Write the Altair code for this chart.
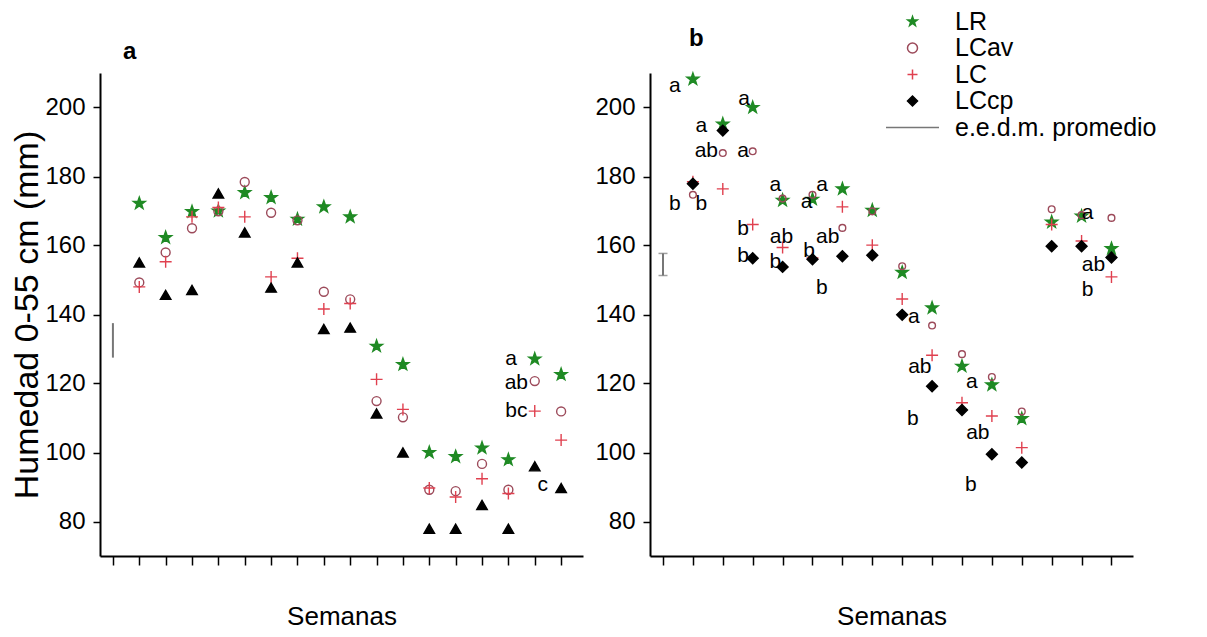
import altair as alt
import pandas as pd

F = "Liberation Sans, Arial, sans-serif"

series = ["LR", "LCav", "LC", "LCcp"]
legend_domain = series + ["e.e.d.m. promedio"]

# ---- panel a ----
weeks_a = list(range(2, 19))
LR_a = [172.2, 162.3, 169.8, 170.0, 175.3, 173.9, 167.6, 171.2, 168.3, 130.8, 125.5, 100.0, 98.8, 101.3, 97.9, 127.1, 122.6]
LCav_a = [149.3, 158.0, 165.0, 169.9, 178.4, 169.5, 167.3, 146.6, 144.4, 114.9, 110.2, 89.2, 88.8, 96.7, 89.2, 120.7, 111.9]
LC_a = [148.0, 155.3, 168.3, 171.0, 168.3, 150.9, 156.3, 141.6, 143.2, 121.2, 112.5, 89.7, 87.1, 92.4, 88.1, 112.0, 103.6]
LCcp_a = [155.1, 145.7, 147.1, 175.1, 163.8, 147.8, 155.1, 135.8, 136.2, 111.3, 100.0, 77.9, 77.9, 84.8, 77.9, 96.0, 89.7]

# ---- panel b ----
weeks_b = list(range(2, 17))
LR_b = [208.2, 195.2, 200.0, 173.1, 173.4, 176.4, 170.2, 152.2, 141.9, 125.0, 119.6, 109.8, 166.8, 168.5, 159.1]
LCav_b = [174.7, 186.8, 187.3, 173.6, 174.7, 165.1, 169.9, 154.0, 136.8, 128.5, 121.9, 111.9, 170.5, 168.8, 168.0]
LC_b = [178.5, 176.4, 166.1, 159.4, 156.4, 171.2, 160.1, 144.5, 128.2, 114.4, 110.6, 101.4, 166.1, 161.3, 150.9]
LCcp_b = [177.9, 193.3, 156.3, 153.8, 156.0, 156.9, 157.2, 139.9, 119.2, 112.3, 99.5, 97.1, 159.8, 159.8, 156.5]

ticks_a = list(range(1, 19))
ticks_b = list(range(1, 17))
y_ticks = [80, 100, 120, 140, 160, 180, 200]

# mean standard error bars (e.e.d.m. promedio)
err_a_week, err_a_lo, err_a_hi = [1], [127.5], [137.5]
err_b_week, err_b_lo, err_b_hi = [1], [151.3], [157.7]

# significance letters
let_a_text = ["a", "ab", "bc", "c"]
let_a_x = [16.1, 16.3, 16.3, 17.3]
let_a_y = [127.0, 120.2, 112.0, 90.6]

let_b_text = ["a", "a", "ab", "b", "b", "a", "a", "b", "b", "a", "ab", "b", "a", "a", "b", "ab", "b",
              "a", "ab", "b", "a", "ab", "b", "a", "ab", "b"]
let_b_x = [1.40, 2.28, 2.45, 1.40, 2.28, 3.71, 3.68, 3.68, 3.68, 4.76, 4.96, 4.76, 6.32, 5.80, 5.89, 6.51, 6.31,
           9.39, 9.59, 9.36, 11.33, 11.53, 11.30, 15.2, 15.4, 15.2]
let_b_y = [206.3, 194.7, 187.3, 172.1, 172.1, 202.4, 187.3, 164.9, 157.0, 177.6, 162.5, 155.1, 177.6, 172.6, 158.4, 162.5, 147.6,
           139.4, 124.8, 109.8, 120.5, 105.6, 90.5, 169.5, 154.3, 147.1]

STAR = ("M0,-1L0.235,-0.324L0.951,-0.309L0.380,0.124L0.588,0.809L0,0.4"
        "L-0.588,0.809L-0.380,0.124L-0.951,-0.309L-0.235,-0.324Z")
PLUS = "M-1,0L1,0M0,-1L0,1"
LINE = "M-5.3,0L5.3,0"

GREEN = "#1f8a24"
BROWN = "#9c4a5a"
RED = "#e0404f"
GREY = "#777777"
FILLS = [GREEN, "transparent", "transparent", "black", "transparent"]
STROKES = [GREEN, BROWN, RED, "black", GREY]


def panel(weeks, cols, ticks, xdom, shapes, sizes, err, letters, ytitle, title, legend, caps):
    xs = alt.Scale(domain=xdom, nice=False, zero=False)
    ys = alt.Scale(domain=[70, 210], nice=False, zero=False)
    xax = alt.Axis(values=ticks, labels=False, tickSize=9, tickWidth=1.5, domainWidth=2,
                   title="Semanas", titleFontSize=26, titlePadding=38, titleFont=F,
                   titleFontWeight="normal")
    yax = alt.Axis(values=y_ticks, tickSize=7, tickWidth=1.5, domainWidth=2, labelFontSize=24,
                   labelPadding=8, labelFont=F, title=ytitle, titleFontSize=34, titlePadding=0,
                   titleFont=F, titleFontWeight="normal")
    layers = []
    for name, vals, sz in zip(series, cols, sizes):
        d = pd.DataFrame({"week": weeks, "value": vals, "series": [name] * len(weeks)})
        if legend is None:
            shp = alt.Shape("series:N", scale=alt.Scale(domain=legend_domain, range=shapes), legend=None)
            fil = alt.Fill("series:N", scale=alt.Scale(domain=legend_domain, range=FILLS), legend=None)
            stk = alt.Stroke("series:N", scale=alt.Scale(domain=legend_domain, range=STROKES), legend=None)
        else:
            shp = alt.Shape("series:N", scale=alt.Scale(domain=legend_domain, range=shapes), legend=legend)
            fil = alt.Fill("series:N", scale=alt.Scale(domain=legend_domain, range=FILLS), legend=legend)
            stk = alt.Stroke("series:N", scale=alt.Scale(domain=legend_domain, range=STROKES), legend=legend)
        layers.append(alt.Chart(d).mark_point(opacity=1, strokeWidth=1.4, size=sz).encode(
            x=alt.X("week:Q", scale=xs, axis=xax),
            y=alt.Y("value:Q", scale=ys, axis=yax),
            shape=shp, fill=fil, stroke=stk,
        ))
    edf = pd.DataFrame({"week": err[0], "lo": err[1], "hi": err[2]})
    layers.append(alt.Chart(edf).mark_rule(color=GREY, strokeWidth=2).encode(
        x=alt.X("week:Q", scale=xs, axis=xax),
        y=alt.Y("lo:Q", scale=ys, axis=yax),
        y2="hi:Q",
    ))
    if caps:
        cdf = pd.DataFrame({"week": err[0] * 2, "v": err[1] + err[2]})
        layers.append(alt.Chart(cdf).mark_tick(color=GREY, orient="horizontal", size=9,
                                               thickness=1.5).encode(
            x=alt.X("week:Q", scale=xs, axis=xax),
            y=alt.Y("v:Q", scale=ys, axis=yax),
        ))
    ldf = pd.DataFrame({"x": letters[1], "y": letters[2], "t": letters[0]})
    layers.append(alt.Chart(ldf).mark_text(fontSize=21, font=F, color="black", align="center",
                                           baseline="middle").encode(
        x=alt.X("x:Q", scale=xs, axis=xax),
        y=alt.Y("y:Q", scale=ys, axis=yax),
        text="t:N",
    ))
    return alt.layer(*layers).properties(width=483, height=483, title=title)


legend_b = alt.Legend(title=None, orient="none", legendX=250, legendY=-64, labelFontSize=25,
                      labelFont=F, labelColor="black", labelOffset=30, rowPadding=0.5,
                      symbolSize=100, symbolStrokeWidth=1.5, padding=0, labelLimit=400)

title_a = alt.TitleParams("a", anchor="start", frame="group", dx=23, offset=9, fontSize=24,
                          fontWeight="bold", font=F, color="black")
title_b = alt.TitleParams("b", anchor="start", frame="group", dx=39, offset=-42, fontSize=24,
                          fontWeight="bold", font=F, color="black")

pa = panel(weeks_a, [LR_a, LCav_a, LC_a, LCcp_a], ticks_a, [0.51, 18.83],
           [STAR, "circle", PLUS, "triangle-up", LINE], [160, 80, 144, 110],
           (err_a_week, err_a_lo, err_a_hi), (let_a_text, let_a_x, let_a_y),
           "Humedad 0-55 cm (mm)", title_a, None, False)
pb = panel(weeks_b, [LR_b, LCav_b, LC_b, LCcp_b], ticks_b, [0.565, 16.72],
           [STAR, "circle", PLUS, "diamond", LINE], [160, 45, 144, 120],
           (err_b_week, err_b_lo, err_b_hi), (let_b_text, let_b_x, let_b_y),
           None, title_b, legend_b, True)

chart = alt.hconcat(pa, pb, spacing=11).resolve_scale(
    shape="independent", fill="independent", stroke="independent",
    x="independent", y="independent"
).properties(
    padding={"left": 2, "top": 1, "right": 0, "bottom": 0}
).configure_view(stroke=None).configure_axis(
    grid=False, domainColor="black", tickColor="black", labelColor="black", titleColor="black"
)

chart.save("out.html", embed_options={"renderer": "svg", "actions": False})
